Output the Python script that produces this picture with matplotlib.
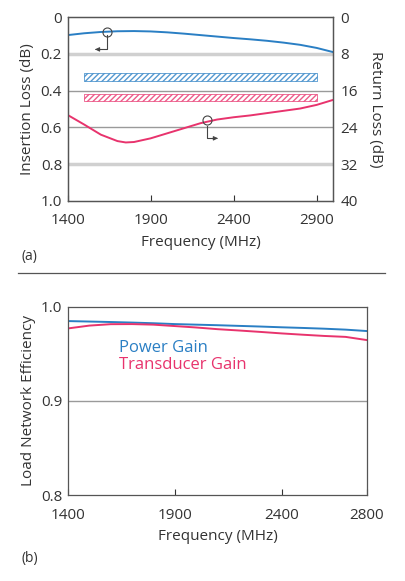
import matplotlib.pyplot as plt
import numpy as np

plt.rcParams['font.family'] = ['Open Sans', 'DejaVu Sans']
plt.rcParams['hatch.linewidth'] = 1.0

BLUE = '#2a7fc4'
PINK = '#e8336d'

# (a) insertion loss / return loss
freq_a = [1400, 1500, 1600, 1700, 1800, 1900, 2000, 2100, 2200, 2300, 2400,
          2500, 2600, 2700, 2800, 2900, 3000]
ins_loss = [0.097, 0.087, 0.080, 0.076, 0.075, 0.077, 0.082, 0.089, 0.097, 0.105,
            0.113, 0.120, 0.128, 0.138, 0.150, 0.167, 0.190]
freq_rl = [1400, 1500, 1600, 1700, 1750, 1800, 1900, 2000, 2100, 2200, 2300, 2400,
           2500, 2600, 2700, 2800, 2900, 3000]
ret_loss = [21.3, 23.4, 25.6, 27.0, 27.3, 27.2, 26.4, 25.3, 24.2, 23.1, 22.3, 21.8,
            21.4, 20.9, 20.4, 19.9, 19.1, 18.0]
spec_il = (1500, 2900, 0.302, 0.347)
spec_rl = (1500, 2900, 0.420, 0.455)

# (b) load network efficiency
freq_b = [1400, 1500, 1600, 1700, 1800, 1900, 2000, 2100, 2200, 2300, 2400,
          2500, 2600, 2700, 2800]
power_gain = [0.9848, 0.9843, 0.9838, 0.9832, 0.9825, 0.9816, 0.9810, 0.9804,
              0.9797, 0.9790, 0.9782, 0.9775, 0.9767, 0.9757, 0.9742]
trans_gain = [0.9770, 0.9800, 0.9815, 0.9816, 0.9810, 0.9795, 0.9780, 0.9762,
              0.9748, 0.9733, 0.9717, 0.9703, 0.9690, 0.9680, 0.9646]

fig = plt.figure(figsize=(4.05, 5.81), dpi=100)
tc = '#333333'
fs = 11

ax = fig.add_axes([0.167, 0.6546, 0.656, 0.3156])
ax.plot(freq_a, ins_loss, color=BLUE, lw=1.4)
ax.set_xlim(1400, 3000)
ax.set_ylim(1.0, 0.0)
ax.set_yticks([0, 0.2, 0.4, 0.6, 0.8, 1.0])
ax.set_yticklabels(['0', '0.2', '0.4', '0.6', '0.8', '1.0'])
ax.set_xticks([1400, 1900, 2400, 2900])
for g, lw, c in [(0.2, 2.5, '#d0d0d0'), (0.4, 1.0, '#9a9a9a'), (0.6, 1.0, '#9a9a9a'), (0.8, 2.5, '#d0d0d0')]:
    ax.axhline(g, color=c, lw=lw, zorder=0)
for (x0, x1, y0, y1), c in [(spec_il, BLUE), (spec_rl, PINK)]:
    ax.fill_between([x0, x1], y0, y1, facecolor='white', edgecolor=c, hatch='//////', lw=0.6, alpha=0.8)
ax.set_ylabel('Insertion Loss (dB)', fontsize=fs, color=tc)
ax.set_xlabel('Frequency (MHz)', fontsize=fs, color=tc, labelpad=5)

ax2 = ax.twinx()
ax2.plot(freq_rl, ret_loss, color=PINK, lw=1.4)
ax2.set_ylim(40, 0)
ax2.set_yticks([0, 8, 16, 24, 32, 40])
ax2.set_ylabel('Return Loss (dB)', fontsize=fs, color=tc, rotation=270, labelpad=18)

# curve pointers
ax.plot([1640], [0.078], 'o', ms=6.5, mfc='none', mec='#444444', mew=0.8)
ax.plot([1640, 1640, 1575], [0.096, 0.175, 0.175], color='#444444', lw=0.8)
ax.annotate('', xy=(1565, 0.175), xytext=(1590, 0.175),
            arrowprops=dict(arrowstyle='-|>', color='#444444', lw=0.8, mutation_scale=6))
ax2.plot([2238], [22.5], 'o', ms=6.5, mfc='none', mec='#444444', mew=0.8)
ax2.plot([2238, 2238, 2290], [23.8, 26.4, 26.4], color='#444444', lw=0.8)
ax2.annotate('', xy=(2305, 26.4), xytext=(2280, 26.4),
             arrowprops=dict(arrowstyle='-|>', color='#444444', lw=0.8, mutation_scale=6))

for a in (ax, ax2):
    a.tick_params(direction='in', length=4, labelsize=fs, colors=tc, pad=4)
    for s in a.spines.values():
        s.set_color('#555555')
        s.set_linewidth(0.9)
ax.tick_params(axis='x', pad=9)
ax.tick_params(axis='y', length=0)
ax2.tick_params(axis='y', length=0, pad=5)

fig.text(0.054, 0.553, '(a)', fontsize=10, color=tc)
fig.add_artist(plt.Line2D([0.044, 0.951], [0.530, 0.530], color='#555555', lw=0.9))

# (b)
bx = fig.add_axes([0.168, 0.148, 0.738, 0.324])
bx.plot(freq_b, power_gain, color=BLUE, lw=1.4)
bx.plot(freq_b, trans_gain, color=PINK, lw=1.4)
bx.set_xlim(1400, 2800)
bx.set_ylim(0.8, 1.0)
bx.set_xticks([1400, 1900, 2400, 2800])
bx.set_yticks([0.8, 0.9, 1.0])
bx.set_yticklabels(['0.8', '0.9', '1.0'])
bx.axhline(0.9, color='#9a9a9a', lw=1.0, zorder=0)
bx.tick_params(direction='in', length=4, labelsize=fs, colors=tc, pad=4)
bx.tick_params(axis='x', pad=9)
bx.tick_params(axis='y', length=0)
for s in bx.spines.values():
    s.set_color('#555555')
    s.set_linewidth(0.9)
bx.set_ylabel('Load Network Efficiency', fontsize=fs, color=tc)
bx.set_xlabel('Frequency (MHz)', fontsize=fs, color=tc, labelpad=5)
bx.text(1640, 0.956, 'Power Gain', color=BLUE, fontsize=fs + 1, va='center')
bx.text(1640, 0.938, 'Transducer Gain', color=PINK, fontsize=fs + 1, va='center')
fig.text(0.054, 0.033, '(b)', fontsize=10, color=tc)

fig.savefig('out.png', dpi=100)
